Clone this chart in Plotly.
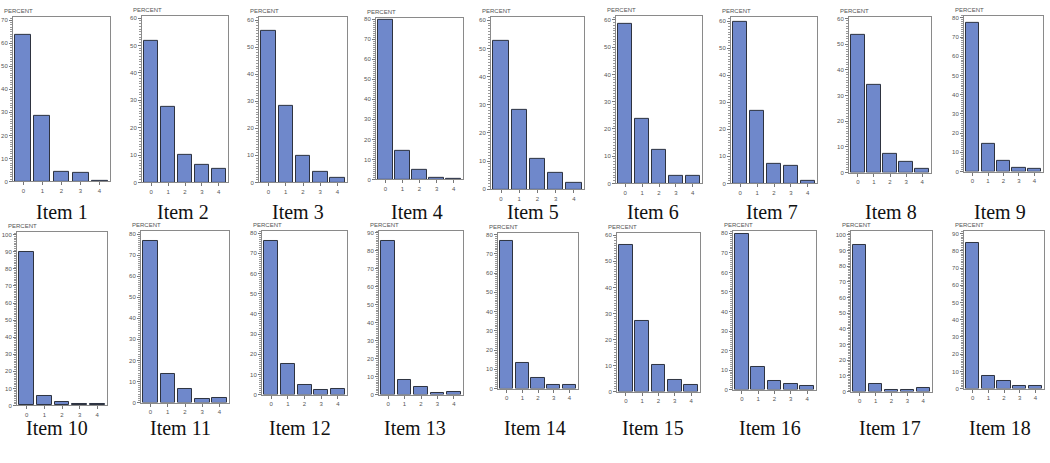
import plotly.graph_objects as go

categories = [0, 1, 2, 3, 4]
item_labels = [f"Item {i}" for i in range(1, 19)]

item1 = [63.5, 28.7, 4.2, 3.8, 0.4]
item2 = [51.5, 27.4, 10.0, 6.3, 5.0]
item3 = [56.2, 28.4, 9.9, 3.8, 1.6]
item4 = [79.5, 14.5, 4.9, 0.8, 0.4]
item5 = [52.8, 28.1, 10.8, 5.9, 2.2]
item6 = [58.5, 23.6, 12.4, 2.9, 2.7]
item7 = [59.7, 26.7, 7.1, 6.5, 0.8]
item8 = [53.5, 34.0, 7.4, 4.1, 1.5]
item9 = [77.6, 14.5, 5.5, 1.7, 1.5]
item10 = [90.0, 5.8, 2.3, 0.6, 0.6]
item11 = [76.8, 13.7, 6.3, 1.6, 2.2]
item12 = [75.9, 15.3, 4.7, 2.3, 2.6]
item13 = [85.8, 8.3, 4.1, 0.9, 1.3]
item14 = [76.8, 13.3, 5.5, 1.9, 1.9]
item15 = [56.4, 27.2, 10.2, 4.6, 2.4]
item16 = [79.8, 11.6, 4.3, 2.7, 1.7]
item17 = [93.3, 4.6, 1.0, 1.0, 2.0]
item18 = [84.8, 7.5, 4.3, 1.4, 1.7]

series = [item1, item2, item3, item4, item5, item6, item7, item8, item9,
          item10, item11, item12, item13, item14, item15, item16, item17, item18]

# layout (pixel boxes: left, top, right, bottom) and axis tops
W, H = 1050, 463
boxes = [
    (13, 16, 110, 182), (142, 15, 228, 183), (259, 16, 347, 183),
    (376, 17, 463, 180), (491, 16, 584, 190), (616, 15, 702, 184),
    (731, 16, 817, 184), (849, 16, 931, 173), (964, 15, 1043, 172),
    (17, 233, 107, 408), (141, 232, 229, 405), (262, 232, 347, 397),
    (379, 232, 463, 397), (498, 234, 578, 391), (617, 234, 700, 394),
    (733, 232, 816, 392), (851, 232, 932, 394), (964, 232, 1044, 391),
]
y_tops = [71.5, 60.8, 61.2, 80.7, 61.2, 61.5, 61.6, 60.6, 81.0,
          101.6, 81.5, 81.1, 91.1, 80.8, 60.9, 81.2, 102.5, 91.5]
label_pos = [(62, 213), (183, 213), (298, 213), (417, 213), (533, 213),
             (653, 213), (772, 213), (891, 213), (1000, 213),
             (57, 431), (180, 431), (300, 431), (415, 431), (535, 431),
             (653, 431), (770, 431), (890, 431), (1000, 431)]

fig = go.Figure()
annotations = []
for i, vals in enumerate(series):
    n = i + 1
    xa = "x" if n == 1 else f"x{n}"
    ya = "y" if n == 1 else f"y{n}"
    fig.add_trace(go.Bar(
        x=categories, y=vals, xaxis=xa, yaxis=ya, width=0.84,
        marker=dict(color="#6F88CB", line=dict(color="#2E3340", width=1)),
        showlegend=False, hoverinfo="skip",
    ))
    l, t, r, b = boxes[i]
    xkey = "xaxis" if n == 1 else f"xaxis{n}"
    ykey = "yaxis" if n == 1 else f"yaxis{n}"
    fig.layout[xkey] = dict(
        domain=[l / W, r / W], anchor=ya, range=[-0.55, 4.55],
        tickmode="array", tickvals=categories, ticktext=[str(c) for c in categories],
        ticks="outside", ticklen=3, tickcolor="#777", tickwidth=1,
        showline=True, linecolor="#8A8A8A", linewidth=1, mirror=True,
        showgrid=False, zeroline=False, fixedrange=True,
        tickfont=dict(family="Arial", size=6, color="#555"),
    )
    fig.layout[ykey] = dict(
        domain=[1 - b / H, 1 - t / H], anchor=xa, range=[0, y_tops[i]],
        dtick=10, tick0=0, ticks="outside", ticklen=3, tickcolor="#777",
        tickwidth=1,
        minor=dict(dtick=1, ticks="outside", ticklen=2, tickcolor="#999", tickwidth=0.6),
        showline=True, linecolor="#8A8A8A", linewidth=1, mirror=True,
        showgrid=False, zeroline=False, fixedrange=True,
        tickfont=dict(family="Arial", size=6, color="#555"),
    )
    annotations.append(dict(
        x=(l - 11) / W, y=1 - (t - 6) / H, xref="paper", yref="paper",
        text="PERCENT", showarrow=False, xanchor="left", yanchor="middle",
        font=dict(family="Arial", size=6, color="#555"),
    ))
    lx, ly = label_pos[i]
    annotations.append(dict(
        x=lx / W, y=1 - ly / H, xref="paper", yref="paper",
        text=item_labels[i], showarrow=False, xanchor="center", yanchor="middle",
        font=dict(family="Liberation Serif", size=20, color="#111"),
    ))

fig.update_layout(
    width=W, height=H, margin=dict(l=0, r=0, t=0, b=0),
    paper_bgcolor="white", plot_bgcolor="white",
    annotations=annotations, bargap=0,
)
fig.write_html(
    "out.html",
    config={"displayModeBar": False},
    post_script="document.body.style.margin='0';document.body.style.overflow='hidden';",
)
